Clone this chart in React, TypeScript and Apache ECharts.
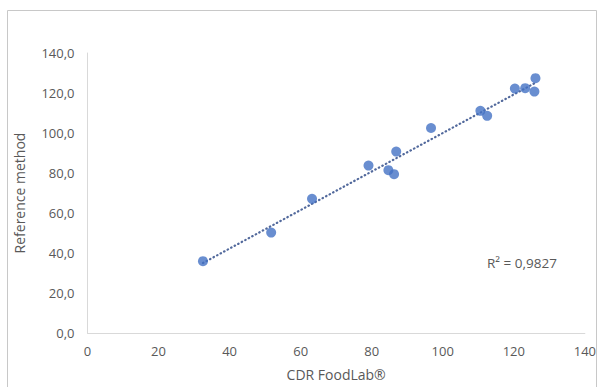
import React, { useEffect, useRef } from "react";
import * as echarts from "echarts";

const xValues = [32.5, 51.7, 63.2, 79.1, 84.7, 86.3, 86.9, 96.7, 110.6, 112.5, 120.3, 123.2, 125.8, 126.1];
const yValues = [35.9, 50.2, 67.1, 83.7, 81.4, 79.4, 90.7, 102.5, 111.1, 108.6, 122.2, 122.4, 120.7, 127.4];
const xTicks = [0, 20, 40, 60, 80, 100, 120, 140];
const yTicks = [0, 20, 40, 60, 80, 100, 120, 140];
const r2Label = "R² = 0,9827";
const xTitle = "CDR FoodLab®";
const yTitle = "Reference method";

function fit(xs: number[], ys: number[]) {
  const n = xs.length;
  const mx = xs.reduce((a, b) => a + b, 0) / n;
  const my = ys.reduce((a, b) => a + b, 0) / n;
  let sxy = 0, sxx = 0;
  for (let i = 0; i < n; i++) {
    sxy += (xs[i] - mx) * (ys[i] - my);
    sxx += (xs[i] - mx) * (xs[i] - mx);
  }
  const b = sxy / sxx;
  return { a: my - b * mx, b };
}

export default function App() {
  const ref = useRef<HTMLDivElement>(null);
  useEffect(() => {
    if (!ref.current) return;
    const chart = echarts.init(ref.current, undefined, { renderer: "svg" });
    const { a, b } = fit(xValues, yValues);
    const minX = Math.min(...xValues);
    const maxX = Math.max(...xValues);
    const font = "'Open Sans', 'Liberation Sans', sans-serif";
    chart.setOption({
      animation: false,
      backgroundColor: "#ffffff",
      grid: { left: 87.5, right: 14, top: 53, bottom: 54 },
      graphic: [
        {
          type: "rect",
          shape: { x: 7.5, y: 10.5, width: 589, height: 400 },
          style: { fill: "none", stroke: "#c8c8c8", lineWidth: 1 },
          silent: true,
        },
        {
          type: "text",
          left: 487,
          top: 256,
          style: { text: r2Label, fill: "#595959", font: `13.5px ${font}` },
        },
      ],
      xAxis: {
        type: "value",
        min: xTicks[0],
        max: xTicks[xTicks.length - 1],
        interval: 20,
        name: xTitle,
        nameLocation: "middle",
        nameGap: 34,
        nameTextStyle: { color: "#595959", fontSize: 14, fontFamily: font },
        axisLine: { show: true, lineStyle: { color: "#d9d9d9", width: 1 } },
        axisTick: { show: false },
        splitLine: { show: false },
        axisLabel: { color: "#595959", fontSize: 13, fontFamily: font, margin: 11 },
      },
      yAxis: {
        type: "value",
        min: yTicks[0],
        max: yTicks[yTicks.length - 1],
        interval: 20,
        name: yTitle,
        nameLocation: "middle",
        nameGap: 61,
        nameRotate: 90,
        nameTextStyle: { color: "#595959", fontSize: 14, fontFamily: font },
        axisLine: { show: true, lineStyle: { color: "#d9d9d9", width: 1 } },
        axisTick: { show: false },
        splitLine: { show: false },
        axisLabel: {
          color: "#595959",
          fontSize: 13,
          fontFamily: font,
          margin: 13,
          formatter: (v: number) => v.toFixed(1).replace(".", ","),
        },
      },
      series: [
        {
          type: "line",
          data: [
            [minX, a + b * minX],
            [maxX, a + b * maxX],
          ],
          showSymbol: false,
          symbol: "none",
          lineStyle: { color: "#52699c", width: 2.2, type: [0.5, 3.5], cap: "round" },
          silent: true,
          z: 1,
        },
        {
          type: "scatter",
          data: xValues.map((x, i) => [x, yValues[i]]),
          symbol: "circle",
          symbolSize: 10,
          itemStyle: { color: "#4472c4" },
          z: 2,
        },
      ],
    });
    return () => chart.dispose();
  }, []);
  return (
    <div
      ref={ref}
      style={{ position: "fixed", left: 0, top: 0, width: 599, height: 387 }}
    />
  );
}
